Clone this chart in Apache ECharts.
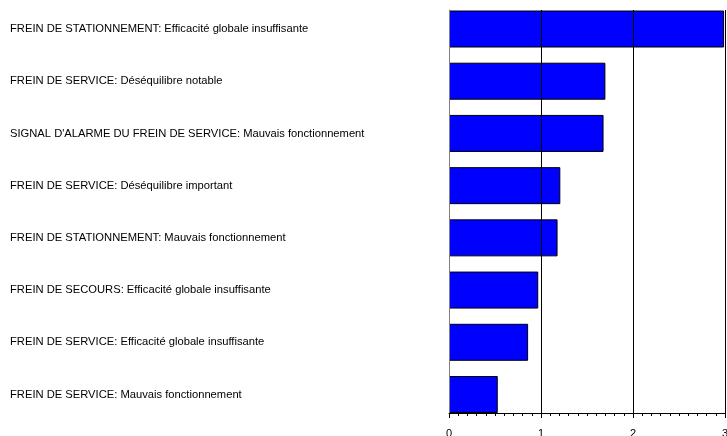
<!DOCTYPE html>
<html>
<head>
<meta charset="utf-8">
<script src="https://cdn.jsdelivr.net/npm/echarts@6/dist/echarts.min.js"></script>
<style>
html,body{margin:0;padding:0;background:#fff;}
#chart{width:727px;height:436px;}
</style>
</head>
<body>
<div id="chart"></div>
<script>
var categories = [
  "FREIN DE STATIONNEMENT: Efficacité globale insuffisante",
  "FREIN DE SERVICE: Déséquilibre notable",
  "SIGNAL D'ALARME DU FREIN DE SERVICE: Mauvais fonctionnement",
  "FREIN DE SERVICE: Déséquilibre important",
  "FREIN DE STATIONNEMENT: Mauvais fonctionnement",
  "FREIN DE SECOURS: Efficacité globale insuffisante",
  "FREIN DE SERVICE: Efficacité globale insuffisante",
  "FREIN DE SERVICE: Mauvais fonctionnement"
];
var values = [2.99, 1.70, 1.68, 1.21, 1.18, 0.97, 0.86, 0.53];
var xTicks = [0, 1, 2, 3];

var chart = echarts.init(document.getElementById('chart'), null, {renderer: 'canvas'});
var font = "'Liberation Sans', Arial, sans-serif";
chart.setOption({
  animation: false,
  backgroundColor: '#ffffff',
  grid: [
    {left: 449, right: 2, top: 10, bottom: 23, outerBoundsMode: 'none', containLabel: false},
    {left: 449, right: 2, top: 29, bottom: 41.5, outerBoundsMode: 'none', containLabel: false}
  ],
  xAxis: [
    {
      gridIndex: 0, type: 'value', min: xTicks[0], max: xTicks[xTicks.length - 1], interval: 1, z: 5,
      axisLine: {show: true, onZero: false, lineStyle: {color: '#000', width: 1}},
      axisTick: {show: true, inside: false, length: 5, lineStyle: {color: '#000'}},
      minorTick: {show: true, splitNumber: 10, length: 3, lineStyle: {color: '#000'}},
      splitLine: {show: true, showMinLine: false, lineStyle: {color: '#000', width: 1}},
      axisLabel: {margin: 15, fontSize: 11, color: '#000', fontFamily: font,
        formatter: function (v) { return String(v); }}
    },
    {
      gridIndex: 1, type: 'value', min: xTicks[0], max: xTicks[xTicks.length - 1], show: false
    }
  ],
  yAxis: [
    {
      gridIndex: 0, type: 'value', min: 0, max: 1, z: 5,
      axisLine: {show: true, lineStyle: {color: '#808080', width: 1}},
      axisTick: {show: false}, axisLabel: {show: false}, splitLine: {show: false}
    },
    {
      gridIndex: 1, type: 'category', data: categories, inverse: true, boundaryGap: false,
      axisLine: {show: false}, axisTick: {show: false}, splitLine: {show: false},
      axisLabel: {align: 'left', margin: 439, fontSize: 11.2, color: '#000', fontFamily: font, interval: 0}
    }
  ],
  series: [{
    type: 'bar', xAxisIndex: 1, yAxisIndex: 1, data: values, barWidth: 37, clip: false, z: 2,
    itemStyle: {color: '#0000ff', borderColor: '#000', borderWidth: 1}
  }]
});
</script>
</body>
</html>
